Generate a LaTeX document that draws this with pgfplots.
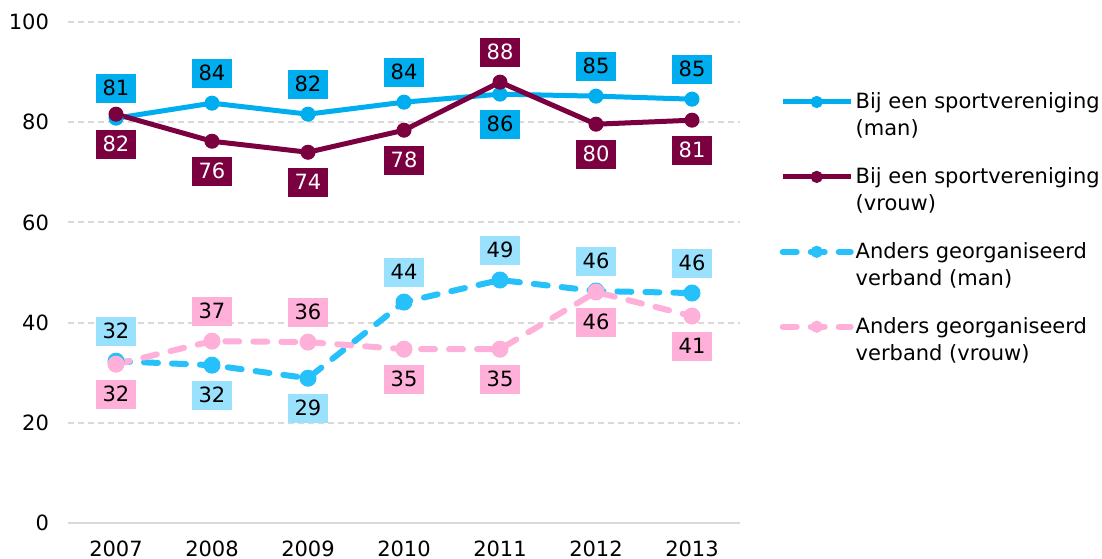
\documentclass[border=0pt]{standalone}
\usepackage{fontspec}
\setmainfont{DejaVu Sans}
\usepackage{pgfplots}
\usepackage{pgfplotstable}
\pgfplotsset{compat=1.18}

\definecolor{cMS}{RGB}{0,174,239}
\definecolor{cWS}{RGB}{122,0,64}
\definecolor{cMO}{RGB}{38,193,250}
\definecolor{cMObox}{RGB}{153,225,252}
\definecolor{cWO}{RGB}{255,176,216}
\definecolor{cGrid}{RGB}{217,217,217}

\pgfplotstableread{
x y lab pos
2007 80.8 81 1
2008 83.8 84 1
2009 81.6 82 1
2010 84.0 84 1
2011 85.6 86 -1
2012 85.2 85 1
2013 84.6 85 1
}\manSport
\pgfplotstableread{
x y lab pos
2007 81.6 82 -1
2008 76.2 76 -1
2009 74.0 74 -1
2010 78.4 78 -1
2011 88.0 88 1
2012 79.6 80 -1
2013 80.4 81 -1
}\womanSport
\pgfplotstableread{
x y lab pos
2007 32.3 32 1
2008 31.5 32 -1
2009 28.9 29 -1
2010 44.1 44 1
2011 48.5 49 1
2012 46.3 46 1
2013 45.9 46 1
}\manOther
\pgfplotstableread{
x y lab pos
2007 31.7 32 -1
2008 36.3 37 1
2009 36.1 36 1
2010 34.7 35 -1
2011 34.7 35 -1
2012 46.1 46 -1
2013 41.3 41 -1
}\womanOther

\newcommand{\lfont}{\fontsize{10.5bp}{13.5bp}\selectfont}

\pgfplotsset{
  sMS/.style={cMS, line width=2.5bp, mark=*, mark size=3.5bp, mark options={line width=0.5bp}},
  sWS/.style={cWS, line width=2.5bp, mark=*, mark size=3.5bp, mark options={line width=0.5bp}},
  sMO/.style={cMO, line width=3bp, line cap=round, dash pattern=on 7bp off 7bp, mark=*, mark size=4bp, mark options={solid, line width=0.5bp}},
  sWO/.style={cWO, line width=3bp, line cap=round, dash pattern=on 7bp off 7bp, mark=*, mark size=4bp, mark options={solid, line width=0.5bp}},
}

% #1 table, #2 fill, #3 text colour, #4 shift
\newcommand{\lblplot}[4]{%
  \addplot[draw=none, mark=none, forget plot, nodes near coords,
    point meta=explicit symbolic,
    every node near coord/.append style={anchor=center, yshift=#4,
      fill=#2, text=#3, minimum width=20bp, minimum height=14.5bp,
      inner sep=0pt, font=\lfont}]
    table[meta=lab, y expr={\thisrow{pos}*(#4) > 0 ? \thisrow{y} : nan}] {#1};
}

\begin{document}
\begin{tikzpicture}
\begin{axis}[
  scale only axis,
  width=336bp, height=250.5bp,
  xmin=2006.5, xmax=2013.5, ymin=0, ymax=100,
  xtick={2007,2008,...,2013}, ytick={0,20,...,100},
  /pgf/number format/assume math mode=true,
  /pgf/number format/1000 sep={},
  tick label style={font=\lfont},
  axis lines*=left,
  y axis line style={draw=none},
  x axis line style={draw=cGrid, line width=1bp, -},
  major tick length=0pt,
  ymajorgrids,
  grid style={draw=cGrid, line width=1bp, dash pattern=on 3bp off 2bp},
  yticklabel style={xshift=-6bp},
  xticklabel style={yshift=-5.5bp},
  unbounded coords=discard,
  legend style={at={(1.0585,0.868)}, anchor=north west, draw=none, fill=none,
    font=\lfont, row sep=10.5bp, inner sep=0pt, nodes={inner xsep=1bp},
    cells={align=left, anchor=west}},
  legend cell align=left,
  legend image code/.code={%
    \draw[mark repeat=2, mark phase=2, #1, mark size=2.8bp] plot coordinates {(0bp,6.75bp) (17bp,6.75bp) (34bp,6.75bp)};
    \path (0bp,-10.5bp) (0bp,10.5bp);},
]
\addplot[sMS] table[x=x, y=y] {\manSport};
\addlegendentry{Bij een sportvereniging\\(man)}
\addplot[sWS] table[x=x, y=y] {\womanSport};
\addlegendentry{Bij een sportvereniging\\(vrouw)}
\addplot[sMO] table[x=x, y=y] {\manOther};
\addlegendentry{Anders georganiseerd\\verband (man)}
\addplot[sWO] table[x=x, y=y] {\womanOther};
\addlegendentry{Anders georganiseerd\\verband (vrouw)}
\lblplot{\manSport}{cMS}{black}{15bp}
\lblplot{\manSport}{cMS}{black}{-15bp}
\lblplot{\womanSport}{cWS}{white}{15bp}
\lblplot{\womanSport}{cWS}{white}{-15bp}
\lblplot{\manOther}{cMObox}{black}{15bp}
\lblplot{\manOther}{cMObox}{black}{-15bp}
\lblplot{\womanOther}{cWO}{black}{15bp}
\lblplot{\womanOther}{cWO}{black}{-15bp}
\end{axis}
\pgfresetboundingbox
\path[use as bounding box] ([shift={(-34bp,-18bp)}]current axis.south west) rectangle ++(551bp,279.5bp);
\end{tikzpicture}
\end{document}
